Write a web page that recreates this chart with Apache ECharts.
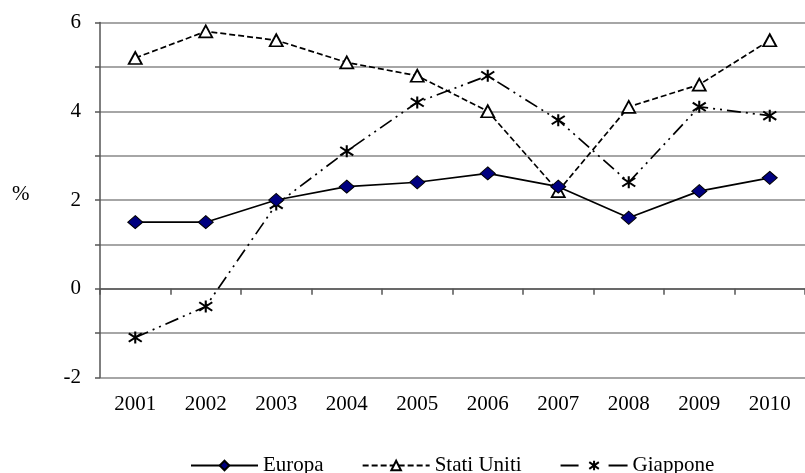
<!DOCTYPE html>
<html>
<head>
<meta charset="utf-8">
<script src="https://cdn.jsdelivr.net/npm/echarts@6/dist/echarts.min.js"></script>
<style>
  html, body { margin: 0; padding: 0; background: #fff; }
  #chart { width: 805px; height: 473px; }
</style>
</head>
<body>
<div id="chart"></div>
<script>
// Annual growth rates (%), 2001-2010
const years = ['2001', '2002', '2003', '2004', '2005', '2006', '2007', '2008', '2009', '2010'];
const europa = [1.5, 1.5, 2.0, 2.3, 2.4, 2.6, 2.3, 1.6, 2.2, 2.5];
const statiUniti = [5.2, 5.8, 5.6, 5.1, 4.8, 4.0, 2.2, 4.1, 4.6, 5.6];
const giappone = [-1.1, -0.4, 1.9, 3.1, 4.2, 4.8, 3.8, 2.4, 4.1, 3.9];
const yTickLabels = ['-2', '0', '2', '4', '6'];

const serif = '"Liberation Serif", "Times New Roman", serif';
const asterisk = 'path://M5,0L5,10M0.5,1.5L9.5,8.5M9.5,1.5L0.5,8.5';

const chart = echarts.init(document.getElementById('chart'), null, { renderer: 'canvas' });

chart.setOption({
  backgroundColor: '#ffffff',
  animation: false,
  textStyle: { fontFamily: serif, color: '#000' },
  grid: { left: 100, top: 22.5, width: 714, height: 355, containLabel: false },
  graphic: [{
    type: 'text',
    left: 12,
    top: 184,
    style: { text: '%', fontFamily: serif, fontSize: 21, fill: '#000' }
  }],
  legend: {
    left: 190,
    top: 455,
    padding: 0,
    itemWidth: 67,
    itemHeight: 12,
    itemGap: 38,
    textStyle: { fontFamily: serif, fontSize: 21, color: '#000' },
    data: [
      { name: 'Europa' },
      { name: 'Stati Uniti' },
      { name: 'Giappone', lineStyle: { type: [18, 30, 19], width: 2 } }
    ]
  },
  xAxis: {
    type: 'category',
    data: years,
    boundaryGap: true,
    axisLine: { lineStyle: { color: '#555', width: 1.5 } },
    axisTick: { show: true, length: 6, interval: 0, lineStyle: { color: '#555', width: 1.5 } },
    axisLabel: { fontFamily: serif, fontSize: 21, color: '#000', margin: 16, interval: 0 },
    splitLine: { show: false }
  },
  yAxis: {
    type: 'value',
    min: -2,
    max: 6,
    interval: 1,
    axisLine: { show: true, lineStyle: { color: '#555', width: 1.5 } },
    axisTick: { show: true, length: 5, inside: false, lineStyle: { color: '#555', width: 1.5 } },
    axisLabel: {
      fontFamily: serif, fontSize: 21, color: '#000', margin: 19,
      formatter: v => yTickLabels.includes(String(v)) ? String(v) : ''
    },
    splitLine: { show: true, lineStyle: { color: '#a6a6a6', width: 2 } }
  },
  series: [
    {
      name: 'Stati Uniti',
      type: 'line',
      data: statiUniti,
      symbol: 'triangle',
      symbolSize: [13, 12],
      z: 2,
      lineStyle: { color: '#000', width: 1.7, type: [6, 3] },
      itemStyle: { color: '#fff', borderColor: '#000', borderWidth: 1.8 }
    },
    {
      name: 'Giappone',
      type: 'line',
      data: giappone,
      symbol: asterisk,
      symbolSize: [13, 12],
      z: 3,
      lineStyle: { color: '#000', width: 1.7, type: [14, 5, 2, 5, 2, 5] },
      itemStyle: { color: 'rgba(0,0,0,0)', borderColor: '#000', borderWidth: 2 }
    },
    {
      name: 'Europa',
      type: 'line',
      data: europa,
      symbol: 'diamond',
      symbolSize: [15, 13],
      z: 4,
      lineStyle: { color: '#000', width: 1.7, type: 'solid' },
      itemStyle: { color: '#000080', borderColor: '#000', borderWidth: 1 }
    }
  ]
});
</script>
</body>
</html>
